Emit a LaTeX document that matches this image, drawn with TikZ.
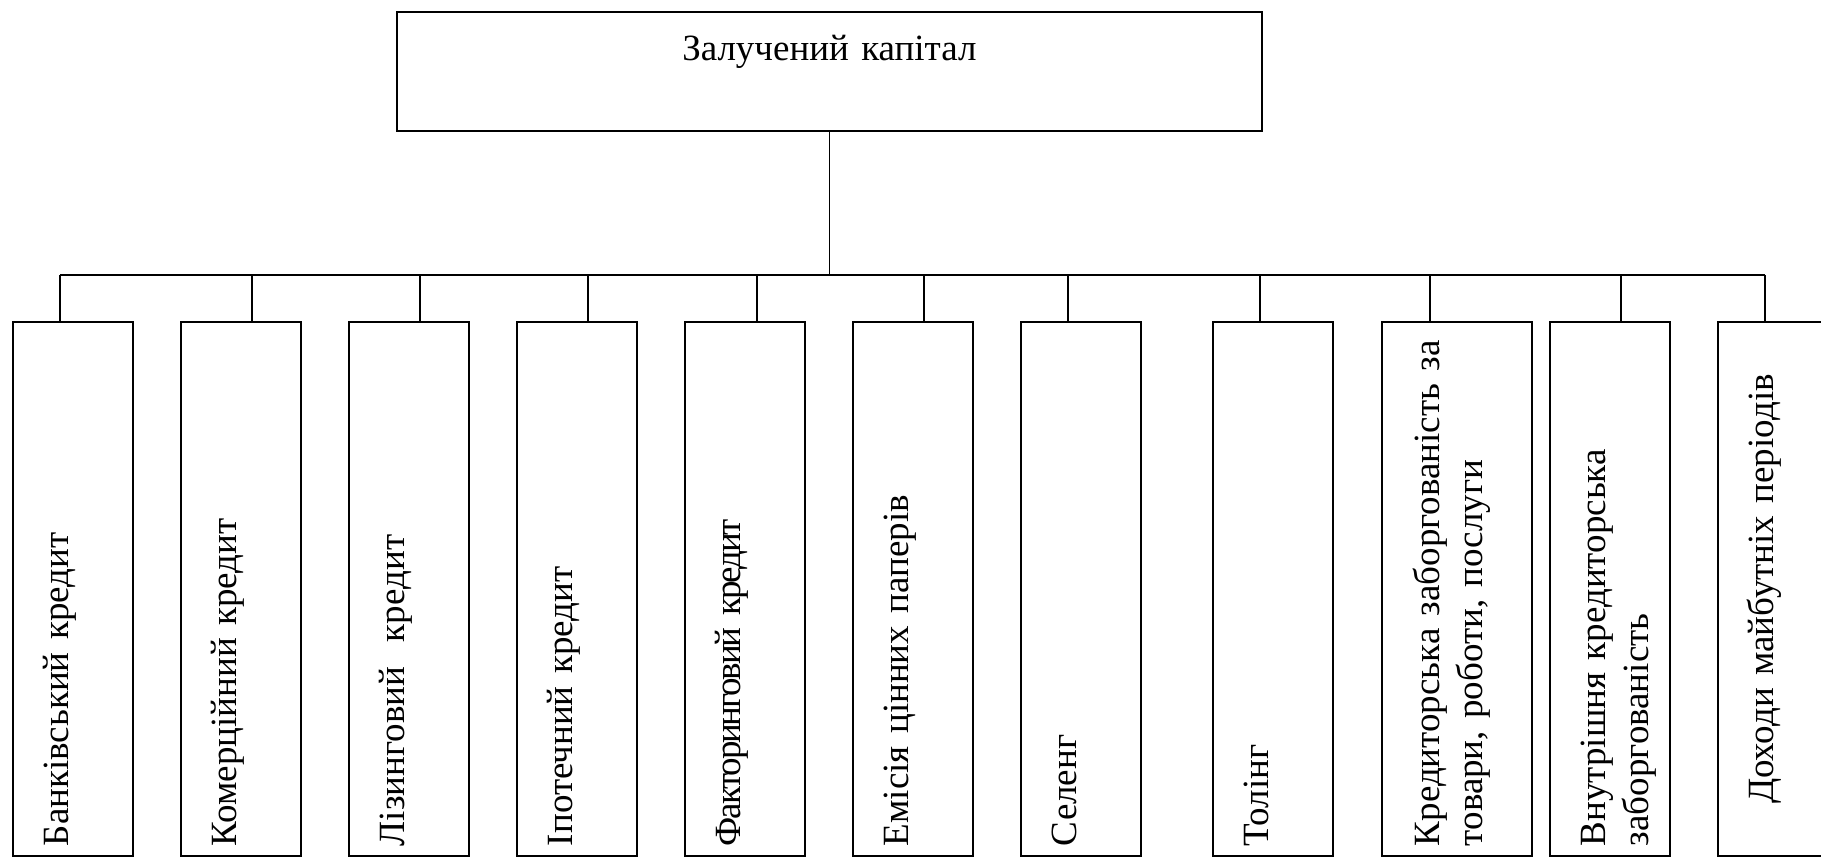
\documentclass[tikz,border=0pt]{standalone}
\usepackage{fontspec}
\setmainfont{Liberation Serif}

\tikzset{
    kind/.style={draw, rotate=90, anchor=north west, inner xsep=10pt, inner ysep=0pt,
        text width=514pt, text height=56pt, text depth=64pt, align=left}
}

\begin{document}
\begin{tikzpicture}[x=1pt, y=-1pt, line width=1.8pt, font=\fontsize{37}{43}\selectfont]
            \useasboundingbox (0,0) rectangle (1821,858);
            \clip (0,0) rectangle (1821,858);

            \node[draw, anchor=north west, inner sep=0pt, text width=865pt,
                text height=49pt, text depth=70pt, align=center] (cap) at (396,11) {Залучений капітал};

            \node[kind] (b1) at (12,857) {Банківський кредит};
            \node[kind] (b2) at (180,857) {Комерційний кредит};
            \node[kind] (b3) at (348,857) {Лізинговий~~кредит};
            \node[kind] (b4) at (516,857) {Іпотечний кредит};
            \node[kind] (b5) at (684,857) {\addfontfeature{LetterSpace=-6}Факторинговий кредит};
            \node[kind] (b6) at (852,857) {Емісія цінних паперів};
            \node[kind] (b7) at (1020,857) {Селенг};
            \node[kind] (b8) at (1212,857) {Толінг};
            \node[kind, text height=58pt, text depth=92pt] (b9) at (1381,857)
                {\mbox{Кредиторська заборгованість за}\\ \mbox{товари, роботи, послуги}};
            \node[kind] (b10) at (1549,857) {Внутрішня кредиторська\\ заборгованість};
            \node[kind, align=center] (b11) at (1717,857) {Доходи майбутніх періодів};

            \coordinate (d1) at (60,275);
            \coordinate (d2) at (252,275);
            \coordinate (d3) at (420,275);
            \coordinate (d4) at (588,275);
            \coordinate (d5) at (757,275);
            \coordinate (d6) at (924,275);
            \coordinate (d7) at (1068,275);
            \coordinate (d8) at (1260,275);
            \coordinate (d9) at (1430,275);
            \coordinate (d10) at (1621,275);
            \coordinate (d11) at (1765,275);

            \draw (cap.south) -- (cap.south |- d1);
            \draw (d1) -- (d11);
            \draw (d1) -- (d1 |- b1.east);
            \draw (d2) -- (d2 |- b2.east);
            \draw (d3) -- (d3 |- b3.east);
            \draw (d4) -- (d4 |- b4.east);
            \draw (d5) -- (d5 |- b5.east);
            \draw (d6) -- (d6 |- b6.east);
            \draw (d7) -- (d7 |- b7.east);
            \draw (d8) -- (d8 |- b8.east);
            \draw (d9) -- (d9 |- b9.east);
            \draw (d10) -- (d10 |- b10.east);
            \draw (d11) -- (d11 |- b11.east);
\end{tikzpicture}
\end{document}
